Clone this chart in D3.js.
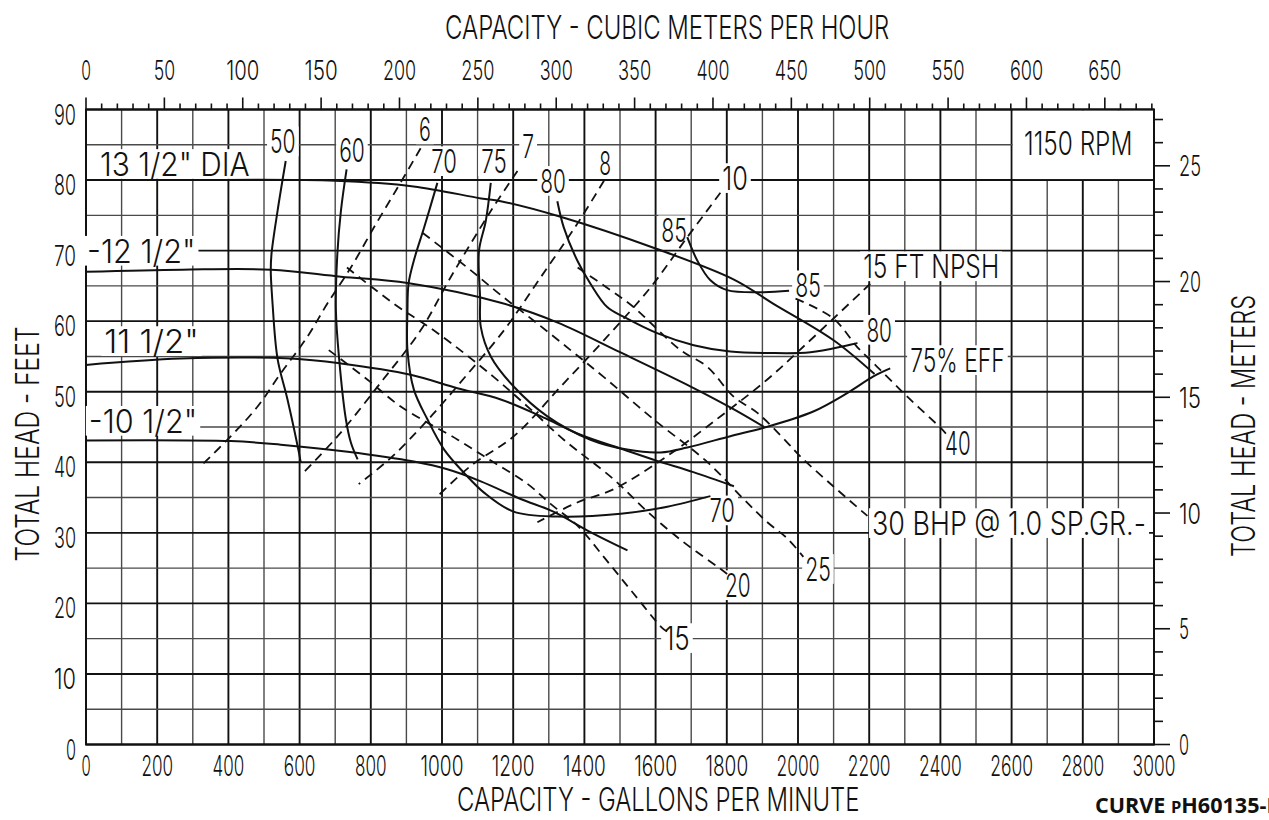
<!DOCTYPE html>
<meta charset="utf-8">
<script src="https://d3js.org/d3.v7.min.js"></script>
<style>
  body { margin: 0; background: #fff; }
  text { font-family: Inter, "Liberation Sans", Arial, sans-serif; font-weight: 300; fill: #111; }
</style>
<svg id="chart" width="1269" height="820"></svg>

<script>
// ---- axis labels
var gpmLabels = [0, 200, 400, 600, 800, 1000, 1200, 1400, 1600, 1800, 2000, 2200, 2400, 2600, 2800, 3000];
var m3hLabels = [0, 50, 100, 150, 200, 250, 300, 350, 400, 450, 500, 550, 600, 650];
var ftLabels = [0, 10, 20, 30, 40, 50, 60, 70, 80, 90];
var mLabels = [0, 5, 10, 15, 20, 25];

var GPM_PER_M3H = 4.4029, FT_PER_M = 3.2808;

// ---- head / capacity curves per impeller diameter  [gpm, ft]
var dia135 = [[0,80],[270,80],[700,79.9],[920,79.1],[1110,77.4],[1165,77],[1333,74.8],[1600,70.3],[1820,65.9],[1930,62.5],[2100,57.3],[2215,52.5]];
var dia125 = [[0,67],[270,67.3],[520,67.3],[716,66.3],[903,65.4],[1165,62.6],[1325,59.8],[1500,55.6],[1700,50.7],[1820,47.5],[1905,45]];
var dia115 = [[0,53.8],[267,54.7],[575,54.7],[716,54],[912,52.4],[1043,50.5],[1165,48.9],[1296,46.1],[1389,43.9],[1510,41.8],[1604,40.2],[1706,38.6],[1820,36.6]];
var dia105 = [[0,43.1],[407,43],[547,42.5],[735,41.5],[921,40.1],[1015,39],[1109,37.3],[1221,34.8],[1313,33],[1417,30.1],[1521,27.5]];

// ---- efficiency curves
var eff50 = [[561,82.7],[538,75.6],[521,69.5],[519,67.2],[524,62.5],[538,54.7],[566,48.9],[598,41.4],[603,40]];
var eff60 = [[732,81.5],[716,75.6],[706,69.5],[702,61.5],[711,54.7],[730,46.1],[744,42.8],[763,40.4]];
var eff70 = [[987,79.6],[950,73.3],[921,68.6],[906,65.3],[903,61.5],[903,55.9],[921,50.3],[959,46.1],[1006,41.8],[1062,38.5],[1118,35.7],[1201,33],[1325,32.3],[1502,32.7],[1633,33.7],[1754,35.2]];
var eff75 = [[1137,79.6],[1123,74.2],[1104,70],[1107,63.3],[1109,59.2],[1137,55],[1202,50.7],[1296,46.5],[1417,43.2],[1520,41.8],[1614,41.4],[1689,42.1],[1810,43.7],[1904,44.9],[2043,47.2],[2138,49.8],[2213,52.2],[2259,53.3]];
var eff80 = [[1324,77],[1342,73.3],[1380,68.6],[1417,65.3],[1464,62],[1511,60.6],[1604,58.3],[1707,56.6],[1810,55.7],[1913,55.5],[2035,55.6],[2167,56.9]];
var eff85 = [[1689,71.9],[1717,68.6],[1754,65.8],[1801,64.4],[1904,64.1],[1975,64.3]];

// ---- NPSH required (ft)
var npsh6 = [[940,84.5],[875,78.9],[809,73.3],[744,67.6],[678,62.5],[622,57.8],[547,52.6],[482,47.9],[407,43.7],[323,39.5]];
var npsh7 = [[1212,81.3],[1137,75.6],[1024,66.2],[940,58.7],[828,51.3],[707,43.7],[612,38.6]];
var npsh8 = [[1455,79.9],[1380,73.8],[1277,66.2],[1174,58.7],[1060,51.8],[960,46],[860,40.8],[766,36.9]];
var npsh10 = [[1782,78.2],[1689,71.9],[1586,64.8],[1464,57.8],[1333,50.7],[1202,43.7],[1081,39.5],[988,35.2]];
var npsh15 = [[2203,65.3],[2026,56.9],[1913,51.7],[1782,46.5],[1633,40.9],[1483,36.2],[1380,34.3],[1268,31.5]];

// ---- brake horsepower
var bhp15 = [[682,55.9],[791,51.7],[884,47.9],[1044,43.2],[1145,40],[1241,36.9],[1305,34.1],[1381,31],[1459,26.3],[1538,21.4],[1619,16.5],[1636,15.9]];
var bhp20 = [[733,67.6],[864,62.5],[988,58.3],[1145,52.1],[1249,47.5],[1342,43.2],[1482,37.6],[1577,33],[1678,28.7],[1782,24.9],[1810,23.8]];
var bhp25 = [[946,72.5],[1081,67.2],[1165,63.7],[1257,60.1],[1361,55.9],[1454,52.1],[1594,46.1],[1746,40],[1847,34.8],[1914,31.5],[1970,29.2],[2015,26.6]];
var bhp30 = [[1381,67.6],[1493,63.7],[1538,62],[1670,55.9],[1746,53.5],[1819,49.3],[1886,47],[1970,42.8],[2007,40.8],[2099,36.6],[2195,32.4]];
var bhp40 = [[1993,63.2],[2099,60.4],[2167,56.3],[2223,53.5],[2307,49.3],[2400,44.9],[2422,43.7]];

// ---- curve labels, anchored in chart units [gpm, ft]
var curveLabels = [
  {t: '13 1/2" DIA', q: 39, h: 80.6, a: "start"},
  {t: '-12 1/2"', q: 3, h: 68.3, a: "start"},
  {t: '11 1/2"', q: 51, h: 55.5, a: "start"},
  {t: '-10 1/2"', q: 8, h: 44.2, a: "start"},
  {t: "50", q: 553, h: 83.8, a: "middle"},
  {t: "60", q: 747, h: 82.6, a: "middle"},
  {t: "6", q: 952, h: 85.5, a: "middle"},
  {t: "70", q: 1006, h: 81, a: "middle"},
  {t: "75", q: 1146, h: 81, a: "middle"},
  {t: "7", q: 1242, h: 83.1, a: "middle"},
  {t: "80", q: 1312, h: 78.2, a: "middle"},
  {t: "8", q: 1458, h: 80.7, a: "middle"},
  {t: "10", q: 1823, h: 78.6, a: "middle"},
  {t: "85", q: 1652, h: 71.2, a: "middle"},
  {t: "85", q: 2028, h: 63.4, a: "middle"},
  {t: "15 FT NPSH", q: 2183, h: 66.1, a: "start"},
  {t: "80", q: 2228, h: 57.1, a: "middle"},
  {t: "75% EFF", q: 2315, h: 52.8, a: "start"},
  {t: "40", q: 2449, h: 41, a: "middle"},
  {t: "30 BHP @ 1.0 SP.GR.-", q: 2208, h: 29.7, a: "start"},
  {t: "70", q: 1787, h: 31.5, a: "middle"},
  {t: "20", q: 1831, h: 20.9, a: "middle"},
  {t: "15", q: 1660, h: 13.4, a: "middle"},
  {t: "25", q: 2056, h: 23.2, a: "middle"},
  {t: "1150 RPM", q: 2635, h: 83.6, a: "start"}
];

// The svg
var svg = d3.select("svg"),
  width = +svg.attr("width"),
  height = +svg.attr("height");

svg.append("rect").attr("width", width).attr("height", height).attr("fill", "#fff");

// scales: gallons/feet on bottom/left, m3/h and meters on top/right
var x = d3.scaleLinear().domain([0, 3000]).range([86, 1154]);
var y = d3.scaleLinear().domain([0, 90]).range([744.5, 109.5]);
var xm = d3.scaleLinear().domain([0, 3000 / GPM_PER_M3H]).range(x.range());
var ym = d3.scaleLinear().domain([0, 90 / FT_PER_M]).range(y.range());

var gGrid = svg.append("g"),
  gBg = svg.append("g"),
  gCurves = svg.append("g"),
  gText = svg.append("g");

// grid
gGrid.selectAll("line.v").data(d3.range(0, 3001, 100)).enter().append("line")
  .attr("x1", d => x(d)).attr("x2", d => x(d))
  .attr("y1", y(0)).attr("y2", y(90))
  .attr("stroke", d => d % 200 ? "#4a4a4a" : "#111")
  .attr("stroke-width", d => d % 200 ? 1.4 : 1.9);

gGrid.selectAll("line.h").data(d3.range(0, 91, 5)).enter().append("line")
  .attr("x1", x(0)).attr("x2", x(3000))
  .attr("y1", d => y(d)).attr("y2", d => y(d))
  .attr("stroke", d => d % 10 ? "#4a4a4a" : "#111")
  .attr("stroke-width", d => d % 10 ? 1.4 : 1.9);

// blank box for the speed note
gGrid.append("rect")
  .attr("x", x(2600) + 1.2).attr("y", y(90) + 1)
  .attr("width", x(3000) - x(2600) - 2.2).attr("height", y(80) - y(90) - 2)
  .attr("fill", "#fff");

// frame
gGrid.append("rect")
  .attr("x", x(0)).attr("y", y(90))
  .attr("width", x(3000) - x(0)).attr("height", y(0) - y(90))
  .attr("fill", "none").attr("stroke", "#111").attr("stroke-width", 2);

// top ticks (m3/h) and right ticks (m)
gGrid.selectAll("line.tt").data(d3.range(0, 681, 10)).enter().append("line")
  .attr("x1", d => xm(d)).attr("x2", d => xm(d))
  .attr("y1", y(90)).attr("y2", d => y(90) - (d % 50 ? 6 : 12))
  .attr("stroke", "#111").attr("stroke-width", 1.6);

gGrid.selectAll("line.rt").data(d3.range(0, 28, 1)).enter().append("line")
  .attr("y1", d => ym(d)).attr("y2", d => ym(d))
  .attr("x1", x(3000)).attr("x2", d => x(3000) + (d % 5 ? 9 : 16))
  .attr("stroke", "#111").attr("stroke-width", 1.6);

// text helper: narrow plotter-like lettering, squeezed to a fixed advance
function addText(s, px, py, size, adv, anchor, bg, rot) {
  var t = gText.append("text")
    .attr("font-size", size)
    .attr("text-anchor", anchor)
    .text(s);
  var w = t.node().getComputedTextLength();
  var W = s.length * adv - 2;
  var sx = W / w;
  t.attr("transform", "translate(" + px + "," + py + ")" + (rot ? " rotate(" + rot + ")" : "") + " scale(" + sx + ",1)");
  if (bg) {
    var left = anchor === "middle" ? px - W / 2 : anchor === "end" ? px - W : px;
    gBg.append("rect")
      .attr("x", left - 3).attr("y", py - size * 0.74 - 3)
      .attr("width", W + 6).attr("height", size * 0.74 + 6)
      .attr("fill", "#fff");
  }
  return t;
}

// curves
var line = d3.line()
  .x(d => x(d[0]))
  .y(d => y(d[1]))
  .curve(d3.curveCatmullRom.alpha(0.5));

var solid = [dia135, dia125, dia115, dia105, eff50, eff60, eff70, eff75, eff80, eff85];
var dashed = [npsh6, npsh7, npsh8, npsh10, npsh15, bhp15, bhp20, bhp25, bhp30, bhp40];

gCurves.selectAll("path.s").data(solid).enter().append("path")
  .attr("d", line).attr("fill", "none")
  .attr("stroke", "#111").attr("stroke-width", 2);

gCurves.selectAll("path.d").data(dashed).enter().append("path")
  .attr("d", line).attr("fill", "none")
  .attr("stroke", "#111").attr("stroke-width", 1.8)
  .attr("stroke-dasharray", "9,6");

// curve labels
curveLabels.forEach(function (d) {
  addText(d.t, x(d.q), y(d.h), 32, 13.8, d.a, true);
});

// tick labels
gpmLabels.forEach(d => addText(String(d), x(d), 776, 28, 11.2, "middle", false));
m3hLabels.forEach(d => addText(String(d), xm(d), 80, 27, 11.7, "middle", false));
ftLabels.forEach(d => addText(String(d), 76, y(d) + 15, 29, 12, "end", false));
mLabels.forEach(d => addText(String(d), 1179, ym(d) + 10.5, 29, 12, "start", false));

// axis titles
addText("CAPACITY - CUBIC METERS PER HOUR", 445, 39, 33, 13.95, "start", false);
addText("CAPACITY - GALLONS PER MINUTE", 457, 811, 32, 13.95, "start", false);
addText("TOTAL HEAD - FEET", 39, 444, 33, 13.95, "middle", false, -90);
addText("TOTAL HEAD - METERS", 1255, 426, 33, 13.9, "middle", false, -90);

// curve number
var cn = gText.append("text")
  .attr("x", 1095).attr("y", 813)
  .attr("font-size", 21)
  .style("font-family", "'Open Sans', 'DejaVu Sans', sans-serif")
  .style("font-weight", 700)
  .attr("textLength", 186).attr("lengthAdjust", "spacingAndGlyphs");
cn.append("tspan").text("CURVE ");
cn.append("tspan").attr("font-size", 16).text("P");
cn.append("tspan").text("H60135-B");
</script>
